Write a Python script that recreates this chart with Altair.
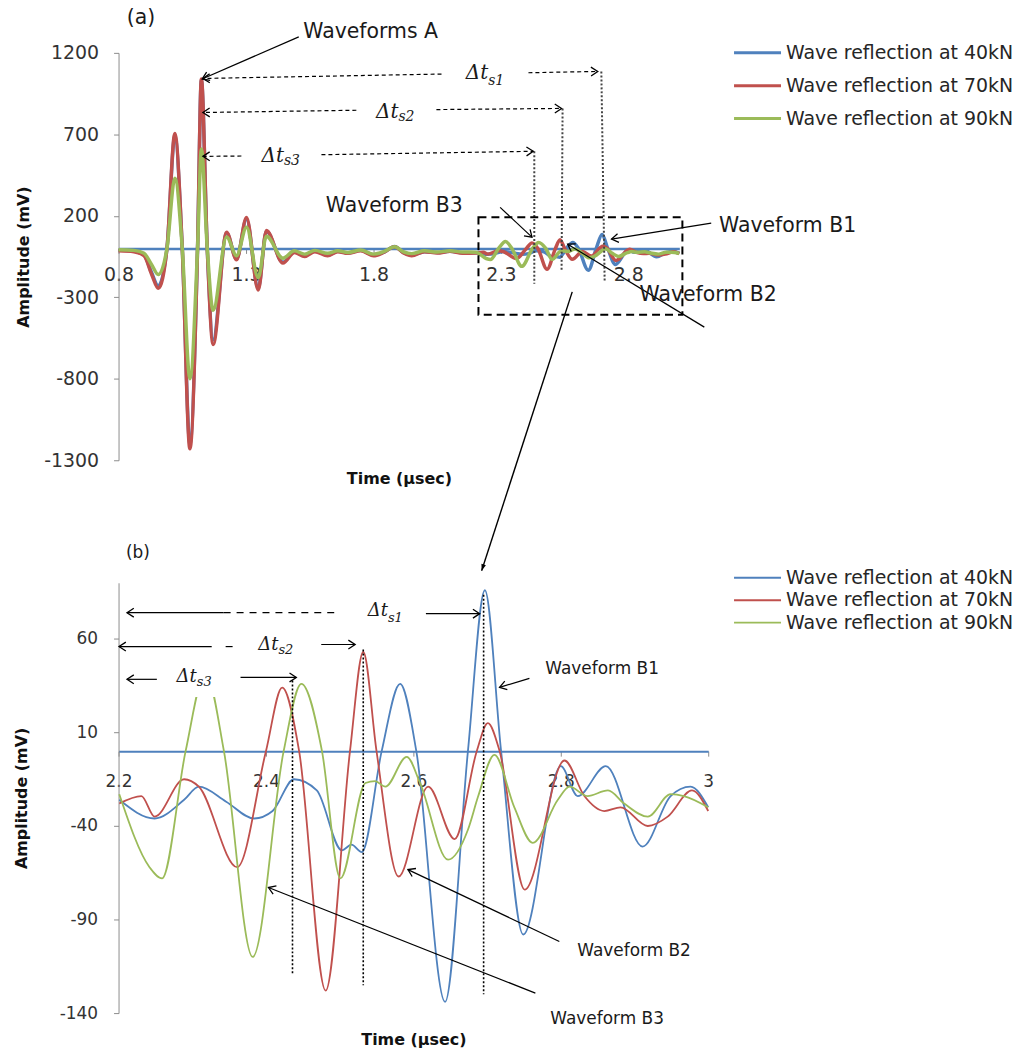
import math
import altair as alt
import pandas as pd

SERIES = ["Wave reflection at 40kN", "Wave reflection at 70kN", "Wave reflection at 90kN"]
COLORS = ["#4F81BD", "#C0504D", "#9BBB59"]
SANS = "DejaVu Sans"
SERIF = "DejaVu Serif"

# ---- 0.8-2.2 µs ----
t_early = [0.80, 0.86, 0.90, 0.93, 0.956, 0.99, 1.021, 1.05, 1.08, 1.11, 1.125, 1.148, 1.171,
           1.224, 1.263, 1.302, 1.348, 1.380, 1.445, 1.49, 1.53, 1.57, 1.62, 1.66, 1.70,
           1.75, 1.80, 1.84, 1.883, 1.92, 1.95, 2.00, 2.05, 2.10, 2.15]
v40_early = [-10, -15, -40, -150, -230, 0, 690, 0, -1200, 0, 1030, 0, -560, 95, -65, 180, -245, 105,
             -85, -20, -45, -15, -40, -18, -28, -12, -40, -25, 12, -28, -40, -20, -25, -18, -26]
v70_early = [-15, -20, -45, -160, -245, 0, 705, 0, -1230, 0, 1040, 0, -590, 100, -70, 190, -255, 110,
             -90, -25, -50, -20, -45, -20, -30, -15, -45, -25, 10, -30, -45, -20, -28, -18, -30]
v90_early = [-8, -12, -30, -100, -160, 0, 430, 0, -800, 0, 610, 0, -380, 70, -45, 130, -180, 75,
             -60, -15, -35, -12, -30, -15, -25, -10, -35, -20, 10, -22, -32, -15, -22, -14, -22]

# ---- 2.2-3.0 µs ----
t40_late = [2.201, 2.249, 2.289, 2.309, 2.346, 2.384, 2.409, 2.438, 2.469, 2.503, 2.516, 2.530, 2.557,
            2.582, 2.604, 2.643, 2.674, 2.697, 2.719, 2.749, 2.800, 2.823, 2.861, 2.911, 2.949, 2.976, 3.0]
v40_late = [-26, -36, -26, -19, -27, -36, -32, -15, -21, -53, -50, -54, 0,
            36, 0, -134, 0, 86, 0, -98, -8, -24, -8, -51, -24, -19, -30]
t70_late = [2.201, 2.231, 2.249, 2.289, 2.309, 2.361, 2.400, 2.422, 2.445, 2.481, 2.514, 2.532, 2.550, 2.580,
            2.620, 2.656, 2.686, 2.701, 2.717, 2.751, 2.805, 2.832, 2.859, 2.881, 2.918, 2.945, 2.978, 3.0]
v70_late = [-28, -24, -35, -15, -19, -62, 0, 34, 0, -128, 0, 53, 0, -67,
            -19, -47, 0, 15, 0, -74, -5, -24, -32, -30, -40, -35, -21, -32]
t90_late = [2.201, 2.242, 2.259, 2.291, 2.318, 2.343, 2.382, 2.424, 2.448, 2.476, 2.501, 2.535, 2.548, 2.562,
            2.591, 2.609, 2.647, 2.674, 2.688, 2.710, 2.737, 2.762, 2.796, 2.812, 2.836, 2.864, 2.886, 2.918,
            2.949, 2.967, 3.0]
v90_late = [-23, -62, -68, 0, 42, 0, -110, 0, 36, 0, -68, -17, -16, -19,
            -3, -17, -58, -42, -24, -2, -30, -49, -26, -19, -24, -21, -28, -35,
            -23, -24, -30]

A_XDOM, A_YDOM = [0.8, 3.0], [-1300, 1200]
B_XDOM, B_YDOM = [2.2, 3.0], [-140, 90]
A_XT, A_YT = [0.8, 1.3, 1.8, 2.3, 2.8], [-1300, -800, -300, 200, 700, 1200]
B_XT, B_YT = [2.2, 2.4, 2.6, 2.8, 3.0], [-140, -90, -40, 10, 60]
AW, AH = 563, 409
BW, BH = 592, 432

# ---- annotations, panel (a) (time, amplitude) ----
a_dash_arrows = [(2.067, 1070, 1.131, 1043), (2.408, 1078, 2.680, 1086),
                 (1.733, 848, 1.131, 834), (2.047, 852, 2.538, 859),
                 (1.282, 567, 1.131, 565), (1.596, 575, 2.427, 596)]
a_dot_lines = [(2.694, 1086, 2.707, -199), (2.542, 859, 2.538, -138), (2.431, 596, 2.431, -217)]
a_solid_arrows = [(1.507, 1298, 1.128, 1040), (2.297, 252, 2.422, 69),
                  (3.125, 155, 2.734, 57), (3.098, -483, 2.562, 26)]
a_box = [(2.212, -407, 3.012, 191)]
a_labels = [("(a)", 0.832, 1416), ("Waveforms A", 1.525, 1328), ("Waveform B3", 1.613, 258),
            ("Waveform B1", 3.156, 136), ("Waveform B2", 2.844, -285)]
a_delta = [("Δt", 2.250, 1078), ("Δt", 1.898, 839), ("Δt", 1.449, 564)]
a_sub = [("s1", 2.250, 1029), ("s2", 1.898, 808), ("s3", 1.449, 534)]

# ---- annotations, panel (b) ----
b_solid_arrows = [(2.3426, 74.0, 2.2115, 74.0), (2.617, 73.5, 2.690, 73.5),
                  (2.3264, 55.9, 2.2007, 55.9), (2.475, 57.0, 2.521, 57.0),
                  (2.252, 38.4, 2.2115, 38.4), (2.3655, 39.4, 2.4412, 39.4),
                  (2.7574, 38.9, 2.7169, 34.1), (2.798, -101.7, 2.5926, -63.3),
                  (2.7655, -129.3, 2.4034, -72.9)]
b_dash_lines = [(2.3426, 74.0, 2.498, 74.0), (2.3453, 55.9, 2.3561, 55.9)]
b_dot_lines = [(2.6953, 83.6, 2.6953, -129.9), (2.532, 54.3, 2.532, -125.1), (2.436, 37.8, 2.436, -119.2)]
b_big_arrow = [(2.8155, 245.5, 2.6926, 96.4)]
b_mask = [(2.272, 29, 2.338, 47)]
b_labels = [("(b)", 2.2101, 106), ("Waveform B1", 2.779, 43.7), ("Waveform B2", 2.8223, -107),
            ("Waveform B3", 2.7858, -143.2)]
b_delta = [("Δt", 2.5655, 75.1), ("Δt", 2.4169, 56.5), ("Δt", 2.3061, 39.4)]
b_sub = [("s1", 2.5655, 71.4), ("s2", 2.4169, 53.8), ("s3", 2.3061, 36.8)]

OPEN_HEAD = "M-1.3,-0.85L0,0L-1.3,0.85"
FILLED_HEAD = "M0,0L-1.7,-0.6L-1.7,0.6Z"
LEGEND_SYMBOL = "M-4,0L4,0"


def series_df(with_early):
    rows = []
    parts = [(SERIES[0], v40_early, t40_late, v40_late),
             (SERIES[1], v70_early, t70_late, v70_late),
             (SERIES[2], v90_early, t90_late, v90_late)]
    for name, ve, tl, vl in parts:
        if with_early:
            rows += [{"series": name, "t": t, "v": v} for t, v in zip(t_early, ve)]
        rows += [{"series": name, "t": t, "v": v} for t, v in zip(tl, vl)]
    return pd.DataFrame(rows)


def seg_df(segs):
    return pd.DataFrame(segs, columns=["t", "v", "t2", "v2"])


def head_df(segs, W, H, xdom, ydom):
    rows = []
    for t0, v0, t1, v1 in segs:
        dx = (t1 - t0) * W / (xdom[1] - xdom[0])
        dy = -(v1 - v0) * H / (ydom[1] - ydom[0])
        rows.append({"t": t1, "v": v1, "angle": math.degrees(math.atan2(dy, dx)) % 360})
    return pd.DataFrame(rows)


def text_df(items):
    return pd.DataFrame(items, columns=["label", "t", "v"])


def make_panel(df, xdom, ydom, xt, yt, W, H, cfg, ann):
    zero_off = -H * (0 - ydom[0]) / (ydom[1] - ydom[0])
    xaxis = alt.Axis(values=xt, labelExpr="datum.value + ''", title="Time (µsec)", offset=zero_off,
                     domainColor="#4F81BD", domainWidth=cfg["domw"], tickColor="#8c8c8c", tickSize=5,
                     labelFont=SANS, labelFontSize=cfg["tickfs"], labelColor="#333333",
                     labelPadding=cfg["xlp"], labelFlush=False, labelOverlap=False, grid=False,
                     titleFont=SANS, titleFontSize=cfg["titlefs"], titleFontWeight="bold",
                     titleColor="#111111", titleY=cfg["xtitleY"], titleBaseline="middle")
    yaxis = alt.Axis(values=yt, labelExpr="datum.value + ''", title="Amplitude (mV)",
                     domainColor="#8c8c8c", tickColor="#8c8c8c",
                     tickSize=5, labelFont=SANS, labelFontSize=cfg["tickfs"], labelColor="#333333",
                     labelPadding=cfg["ylp"], labelOverlap=False, grid=False,
                     titleFont=SANS, titleFontSize=cfg["titlefs"], titleFontWeight="bold",
                     titleColor="#111111", titleX=cfg["ytitleX"], titleBaseline="middle", titleAngle=270)
    xs = alt.Scale(domain=xdom, nice=False, zero=False)
    ys = alt.Scale(domain=ydom, nice=False, zero=False)
    X = lambda f: alt.X(f, type="quantitative", scale=xs, axis=xaxis)
    Y = lambda f: alt.Y(f, type="quantitative", scale=ys, axis=yaxis)

    legend = alt.Legend(orient="none", legendX=cfg["legX"], legendY=cfg["legY"], title=None,
                        symbolType=LEGEND_SYMBOL, symbolSize=139, symbolStrokeWidth=cfg["legsw"],
                        labelFont=SANS, labelFontSize=cfg["legfs"], labelColor="#262626",
                        labelOffset=19, rowPadding=cfg["rowpad"], padding=0, labelLimit=400)
    layers = [alt.Chart(df).mark_line(strokeWidth=cfg["lw"], interpolate="monotone").encode(
        x=X("t"), y=Y("v"),
        color=alt.Color("series:N", scale=alt.Scale(domain=SERIES, range=COLORS), legend=legend))]

    def rules(segs, dash=None, width=1.2, color="black"):
        kw = dict(color=color, strokeWidth=width)
        if dash:
            kw["strokeDash"] = dash
        return alt.Chart(seg_df(segs)).mark_rule(**kw).encode(x=X("t"), y=Y("v"), x2="t2:Q", y2="v2:Q")

    def heads(segs, shape, size, filled):
        return alt.Chart(head_df(segs, W, H, xdom, ydom)).mark_point(
            shape=shape, size=size, filled=filled, color="black", opacity=1, strokeWidth=1.3).encode(
            x=X("t"), y=Y("v"), angle=alt.Angle("angle:Q", scale=None))

    def texts(items, font, size, align, style="normal"):
        return alt.Chart(text_df(items)).mark_text(
            align=align, baseline="middle", font=font, fontSize=size, fontStyle=style,
            color="#1a1a1a").encode(x=X("t"), y=Y("v"), text="label:N")

    for kind, segs, extra in ann["rules"]:
        layers.append(rules(segs, **extra))
    for segs, shape, size, filled in ann["heads"]:
        layers.append(heads(segs, shape, size, filled))
    if "box" in ann:
        layers.append(alt.Chart(seg_df(ann["box"])).mark_rect(
            fillOpacity=0, stroke="black", strokeWidth=2, strokeDash=[8, 5]).encode(
            x=X("t"), y=Y("v"), x2="t2:Q", y2="v2:Q"))
    if "mask" in ann:
        layers.append(alt.Chart(seg_df(ann["mask"])).mark_rect(color="white").encode(
            x=X("t"), y=Y("v"), x2="t2:Q", y2="v2:Q"))
    layers.append(texts(ann["labels"], SANS, cfg["annfs"], "left"))
    layers.append(texts(ann["delta"], SERIF, cfg["dfs"], "right", "italic"))
    layers.append(texts(ann["sub"], SERIF, cfg["sfs"], "left", "italic"))
    return alt.layer(*layers).properties(width=W, height=H)


cfg_a = dict(domw=2.5, tickfs=19, xlp=12, ylp=15, titlefs=16, xtitleY=231, ytitleX=-95,
             legX=632, legY=-9.5, legsw=3, legfs=19, rowpad=13, lw=3.5, annfs=20.5, dfs=20, sfs=14)
cfg_b = dict(domw=2, tickfs=17, xlp=17, ylp=16, titlefs=16, xtitleY=289, ytitleX=-97,
             legX=632, legY=-14.5, legsw=2, legfs=19, rowpad=2.5, lw=1.8, annfs=17, dfs=18, sfs=13)

ann_a = {
    "rules": [("dash", a_dash_arrows, dict(dash=[4, 3], width=1.2)),
              ("dot", a_dot_lines, dict(dash=[2, 2], width=2, color="#444444")),
              ("solid", a_solid_arrows, dict(width=1.2))],
    "heads": [(a_dash_arrows, OPEN_HEAD, 110, False), (a_solid_arrows, OPEN_HEAD, 110, False)],
    "box": a_box,
    "labels": a_labels, "delta": a_delta, "sub": a_sub,
}
ann_b = {
    "rules": [("solid", b_solid_arrows, dict(width=1.2)),
              ("dash", b_dash_lines, dict(dash=[7, 6], width=1.2)),
              ("dot", b_dot_lines, dict(dash=[2, 2], width=1.6)),
              ("big", b_big_arrow, dict(width=1.4))],
    "heads": [(b_solid_arrows, OPEN_HEAD, 110, False), (b_big_arrow, FILLED_HEAD, 60, True)],
    "mask": b_mask,
    "labels": b_labels, "delta": b_delta, "sub": b_sub,
}

panel_a = make_panel(series_df(True), A_XDOM, A_YDOM, A_XT, A_YT, AW, AH, cfg_a, ann_a)
panel_b = make_panel(series_df(False), B_XDOM, B_YDOM, B_XT, B_YT, BW, BH, cfg_b, ann_b)

chart = alt.vconcat(panel_a, panel_b, spacing=123, bounds="flush").resolve_scale(
    color="independent").configure_view(stroke=None).properties(
    background="white", padding={"left": 14, "top": 5, "right": 5, "bottom": 5})

chart.save("out.html", embed_options={"renderer": "svg", "actions": False})
